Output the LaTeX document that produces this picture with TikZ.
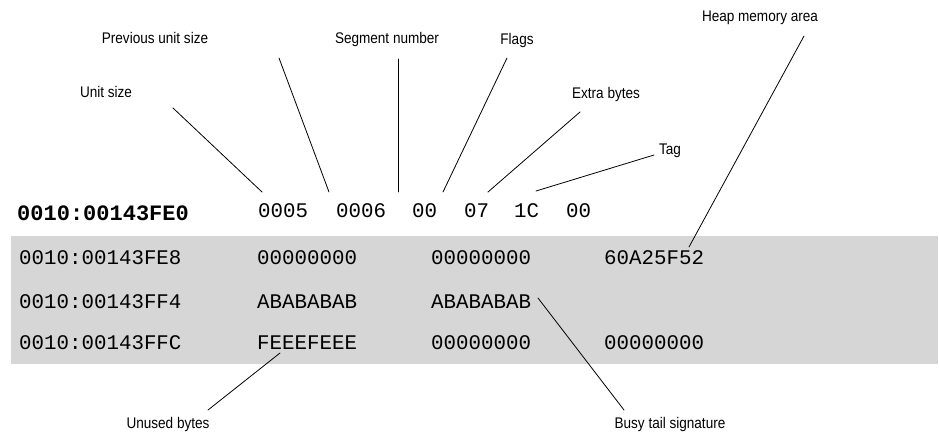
\documentclass[tikz,border=0pt]{standalone}
\usepackage{fontspec}
\setmainfont{Liberation Sans}
\setmonofont{Liberation Mono}
\usepackage{graphicx}
\definecolor{band}{RGB}{214,214,214}
\newcommand\lblsq[1]{\scalebox{0.88}[1]{#1}}
\begin{document}
\begin{tikzpicture}[x=1pt,y=-1pt,
  lbl/.style={inner sep=0pt,anchor=base,font=\fontsize{15.4}{18}\selectfont},
  hex/.style={inner sep=0pt,anchor=base west,font=\fontsize{20.8}{24}\selectfont\ttfamily},
  hexbold/.style={inner sep=0pt,anchor=base west,font=\fontsize{22}{26}\selectfont\ttfamily\bfseries},
  lead/.style={line width=0.8pt,line cap=round}]
\useasboundingbox (0,0) rectangle (939,432);
\fill[band] (11,236) rectangle (938,364);

% labels
\node[lbl] (lprev) at (155,43) {\lblsq{Previous unit size}};
\node[lbl] (lseg)  at (387,43) {\lblsq{Segment number}};
\node[lbl] (lflag) at (517,44) {\lblsq{Flags}};
\node[lbl] (lheap) at (760,21) {\lblsq{Heap memory area}};
\node[lbl] (lunit) at (106,97) {\lblsq{Unit size}};
\node[lbl] (lextra) at (606,98) {\lblsq{Extra bytes}};
\node[lbl] (ltag)  at (670,154) {\lblsq{Tag}};
\node[lbl] (lunused) at (168,428) {\lblsq{Unused bytes}};
\node[lbl] (lbusy) at (670,428) {\lblsq{Busy tail signature}};

% row 1
\node[hexbold] (a1) at (17,220) {0010:00143FE0};
\node[hex] (r1a) at (258,217) {0005};
\node[hex] (r1b) at (336,217) {0006};
\node[hex] (r1c) at (412,217) {00};
\node[hex] (r1d) at (464,217) {07};
\node[hex] (r1e) at (514,217) {1C};
\node[hex] (r1f) at (566,217) {00};

% row 2
\node[hex] (a2) at (19,264) {0010:00143FE8};
\node[hex] (r2a) at (257,264) {00000000};
\node[hex] (r2b) at (431,264) {00000000};
\node[hex] (r2c) at (604,264) {60A25F52};

% row 3
\node[hex] (a3) at (19,308) {0010:00143FF4};
\node[hex] (r3a) at (257,308) {ABABABAB};
\node[hex] (r3b) at (431,308) {ABABABAB};

% row 4
\node[hex] (a4) at (19,349) {0010:00143FFC};
\node[hex] (r4a) at (257,349) {FEEEFEEE};
\node[hex] (r4b) at (431,349) {00000000};
\node[hex] (r4c) at (604,349) {00000000};

% leader end points
\coordinate (usA) at (173,108); \coordinate (usB) at (262,192);
\coordinate (puA) at (279,58);  \coordinate (puB) at (329,192);
\coordinate (snA) at (398,59);  \coordinate (snB) at (398,192);
\coordinate (flA) at (507,58);  \coordinate (flB) at (443,192);
\coordinate (ebA) at (580,112); \coordinate (ebB) at (488,192);
\coordinate (tgA) at (654,155); \coordinate (tgB) at (536,191);
\coordinate (hmA) at (804,36);  \coordinate (hmB) at (689,247);
\coordinate (ubA) at (280,353); \coordinate (ubB) at (208,410);
\coordinate (btA) at (538,298); \coordinate (btB) at (624,410);

\draw[lead] (usA) -- (usB);
\draw[lead] (puA) -- (puB);
\draw[lead] (snA) -- (snB);
\draw[lead] (flA) -- (flB);
\draw[lead] (ebA) -- (ebB);
\draw[lead] (tgA) -- (tgB);
\draw[lead] (hmA) -- (hmB);
\draw[lead] (ubA) -- (ubB);
\draw[lead] (btA) -- (btB);
\end{tikzpicture}
\end{document}
